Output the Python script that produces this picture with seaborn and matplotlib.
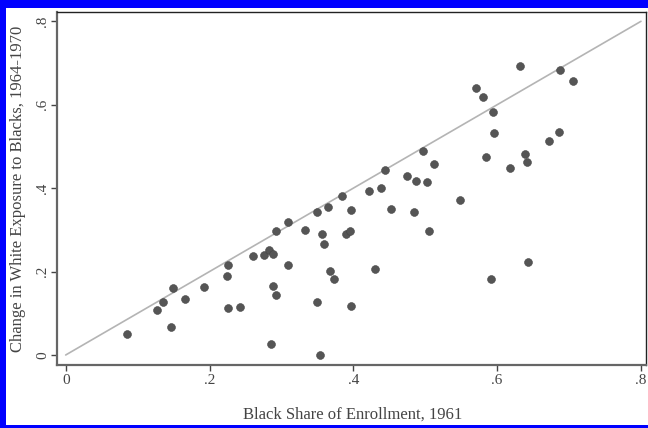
import matplotlib
matplotlib.use("Agg")
import matplotlib.pyplot as plt
import seaborn as sns
import pandas as pd
from matplotlib.patches import Rectangle

# Data
black_share = [0.085, 0.146, 0.127, 0.136, 0.149, 0.166, 0.193, 0.226, 0.225, 0.226,
               0.243, 0.260, 0.276, 0.283, 0.288, 0.293, 0.309, 0.309, 0.288, 0.292,
               0.286, 0.333, 0.349, 0.365, 0.384, 0.397, 0.356, 0.359, 0.390, 0.395,
               0.367, 0.373, 0.350, 0.397, 0.353, 0.430, 0.422, 0.438, 0.453, 0.444,
               0.475, 0.487, 0.503, 0.484, 0.497, 0.512, 0.505, 0.548, 0.570, 0.580,
               0.594, 0.595, 0.584, 0.618, 0.639, 0.641, 0.672, 0.686, 0.632, 0.688,
               0.705, 0.643, 0.591]
exposure_change = [0.051, 0.068, 0.107, 0.126, 0.160, 0.134, 0.162, 0.216, 0.189, 0.112,
                   0.114, 0.237, 0.240, 0.251, 0.243, 0.298, 0.319, 0.216, 0.166, 0.144,
                   0.026, 0.300, 0.342, 0.356, 0.380, 0.347, 0.291, 0.265, 0.289, 0.298,
                   0.202, 0.181, 0.128, 0.117, 0.000, 0.205, 0.394, 0.400, 0.350, 0.443,
                   0.430, 0.418, 0.415, 0.342, 0.490, 0.458, 0.298, 0.372, 0.641, 0.618,
                   0.582, 0.533, 0.475, 0.448, 0.483, 0.463, 0.513, 0.534, 0.692, 0.684,
                   0.657, 0.222, 0.181]
line_x = [0.0, 0.8]
line_y = [0.0, 0.8]
ticks = [0.0, 0.2, 0.4, 0.6, 0.8]
tick_labels = ["0", ".2", ".4", ".6", ".8"]
x_label = "Black Share of Enrollment, 1961"
y_label = "Change in White Exposure to Blacks, 1964-1970"

df = pd.DataFrame({"x": black_share, "y": exposure_change})
ref = pd.DataFrame({"x": line_x, "y": line_y})

sns.set_theme(style="white")
plt.rcParams["font.family"] = ["Liberation Serif", "DejaVu Serif"]

W, H = 648, 428
fig = plt.figure(figsize=(W / 100, H / 100), dpi=100, facecolor="#0000ff")
# white inner panel (blue frame on left, top, bottom)
bl, bt, bb, br = 6, 8, 3, 0
fig.add_artist(Rectangle((bl / W, bb / H), (W - bl - br) / W, (H - bt - bb) / H,
                         transform=fig.transFigure, facecolor="white",
                         edgecolor="none", zorder=0))

left, right, top, bottom = 56.7, 646, 12.3, 365
ax = fig.add_axes([left / W, 1 - bottom / H, (right - left) / W, (bottom - top) / H])
ax.set_facecolor("white")

sns.lineplot(data=ref, x="x", y="y", ax=ax, color="#b4b4b4", linewidth=1.2, zorder=1)
sns.scatterplot(data=df, x="x", y="y", ax=ax, color="#555555", edgecolor="#444444",
                linewidth=0.4, s=32, zorder=2)

ax.set_xlim(-0.0125, 0.807)
ax.set_ylim(-0.024, 0.8216)
ax.set_xticks(ticks)
ax.set_xticklabels(tick_labels)
ax.set_yticks(ticks)
ax.set_yticklabels(tick_labels, rotation=90, va="center")
ax.tick_params(axis="both", direction="out", length=4.5, width=1.0, color="#444444",
               labelsize=11, labelcolor="#444444", bottom=True, left=True)
ax.tick_params(axis="x", pad=2)
ax.tick_params(axis="y", pad=1)

for side in ["left", "bottom"]:
    ax.spines[side].set_color("#666666")
    ax.spines[side].set_linewidth(1.6)
for side in ["top", "right"]:
    ax.spines[side].set_color("#222222")
    ax.spines[side].set_linewidth(1.0)

ax.set_xlabel(x_label, fontsize=12, color="#444444", va="center", ha="center")
ax.set_ylabel(y_label, fontsize=12, color="#444444", va="center", ha="center")
ax.xaxis.set_label_coords((243 + 463) / 2 / W, 1 - 415 / H, transform=fig.transFigure)
ax.yaxis.set_label_coords(18 / W, 1 - 188.5 / H, transform=fig.transFigure)

fig.savefig("out.png", dpi=100, facecolor=fig.get_facecolor())
